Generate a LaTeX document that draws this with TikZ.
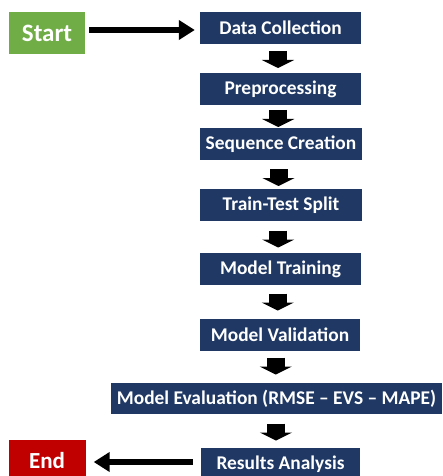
\documentclass[tikz,border=0pt]{standalone}
\usepackage{fontspec}
\setmainfont{Carlito}
\usetikzlibrary{arrows.meta,calc}
\definecolor{navy}{HTML}{1F3864}
\definecolor{sgreen}{HTML}{70AD47}
\definecolor{ered}{HTML}{C00000}
\tikzset{
  stepbox/.style={fill=navy, text=white, font=\fontsize{19.4}{21}\selectfont\bfseries, minimum height=32pt, inner sep=0pt},
  termbox/.style={text=white, font=\fontsize{25}{28}\selectfont\bfseries, minimum width=76pt, minimum height=42pt, inner sep=0pt},
  blk/.style={line width=18pt, -{Triangle[width=32pt,length=8pt]}},
  flow/.style={line width=5.5pt, -{Triangle[width=19pt,length=16pt]}}
}
\begin{document}
\begin{tikzpicture}[x=1pt,y=-1pt]
\useasboundingbox (0,0) rectangle (442,476);
\clip (0,0) rectangle (442,476);
\node[termbox, fill=sgreen] (start) at (47,33) {Start};
\node[termbox, fill=ered, font=\fontsize{23}{26}\selectfont\bfseries, minimum width=77pt] (end) at (47,461) {End};
\node[stepbox, minimum width=161pt] (dc) at (280.5,28) {Data Collection};
\node[stepbox, minimum width=161pt] (pre) at (280.5,89) {Preprocessing};
\node[stepbox, minimum width=162pt] (sc) at (281,144) {Sequence Creation};
\node[stepbox, minimum width=162pt] (tts) at (281,205) {Train-Test Split};
\node[stepbox, minimum width=161pt] (mt) at (280.5,269) {Model Training};
\node[stepbox, minimum width=160pt] (mv) at (280,335) {Model Validation};
\node[stepbox, minimum width=331pt, minimum height=31pt] (me) at (276.5,398.5) {Model Evaluation (RMSE – EVS – MAPE)};
\node[stepbox, minimum width=159pt] (ra) at (280.5,464) {Results Analysis};
\draw[flow] ($(start.east)+(4,-3)$) -- ($(start.east -| dc.west)+(-5,-3)$);
\draw[flow] ($(ra.west)+(-8,-2)$) -- ($(ra.west -| end.east)+(8,-2)$);
\foreach \a/\b/\d in {dc/pre/1, pre/sc/2, sc/tts/3, tts/mt/2, mt/mv/0, mv/me/-1, me/ra/1}{
  \draw[blk] ($(\a.south)!.5!(\b.north)+(0,\d)+(278-280.5,-8.5)$) -- ($(\a.south)!.5!(\b.north)+(0,\d)+(278-280.5,8.5)$);
}
\end{tikzpicture}
\end{document}
